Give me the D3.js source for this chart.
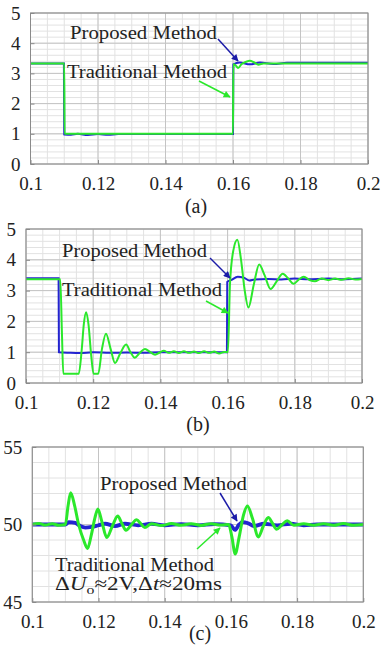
<!DOCTYPE html>
<html>
<head>
<meta charset="utf-8">
<script src="https://cdn.jsdelivr.net/npm/d3@7/dist/d3.min.js"></script>
<style>
  body { margin: 0; background: #fff; }
  svg { display: block; }
  text { font-family: "Times New Roman", "Liberation Serif", "DejaVu Serif", serif; fill: #222; }
</style>
</head>
<body>
<script>
// time axis shared by all three panels
var xTicks = [0.1, 0.12, 0.14, 0.16, 0.18, 0.2];
var yTicksAB = [0, 1, 2, 3, 4, 5];
var yTicksC = [45, 50, 55];

// (a) proposed / traditional
var propA = [[0.1,3.33],[0.1099,3.33],[0.11,0.98],[0.112,0.97],[0.114,1.0],[0.117,0.96],[0.12,0.99],[0.123,0.97],[0.126,0.99],[0.16,0.99],
  [0.1601,3.3],[0.162,3.36],[0.165,3.3],[0.168,3.36],[0.172,3.31],[0.176,3.35],[0.2,3.35]];
var tradA = [[0.1,3.33],[0.11,3.33],[0.1101,1.0],[0.16,1.0],[0.1601,3.3],[0.1608,3.26],[0.1615,3.18],[0.1625,3.3],[0.1638,3.38],[0.165,3.42],
  [0.1663,3.36],[0.1675,3.29],[0.169,3.33],[0.2,3.33]];

// (b)
var propB = [[0.1,3.4],[0.1097,3.4],[0.1098,1.0],[0.113,0.98],[0.116,0.97],[0.12,1.0],[0.125,0.98],[0.13,0.99],[0.135,0.98],[0.14,1.0],
  [0.15,1.0],[0.1598,1.0],[0.1599,3.28],[0.1612,3.35],[0.163,3.45],[0.1648,3.42],[0.1665,3.33],[0.168,3.36],[0.172,3.38],[0.176,3.36],
  [0.18,3.39],[0.184,3.37],[0.19,3.39],[0.195,3.37],[0.2,3.39]];
var tradB = [[0.1,3.37],[0.1102,3.37],[0.1107,1.6],[0.1111,0.3],[0.1157,0.3],[0.1166,1.1],[0.1172,1.9],[0.1179,2.3],[0.1186,1.9],
  [0.1194,0.9],[0.1201,0.3],[0.1215,0.3],[0.1226,1.1],[0.1238,1.6],[0.1252,1.1],[0.1265,0.65],[0.128,0.95],[0.1298,1.25],[0.1311,1.0],
  [0.1324,0.82],[0.1339,0.98],[0.1354,1.1],[0.137,1.0],[0.1384,0.92],[0.1398,0.99],[0.141,1.05],[0.1425,0.98],[0.144,1.03],
  [0.1455,0.97],[0.147,1.03],[0.1485,0.98],[0.15,1.02],[0.1515,0.97],[0.153,1.03],[0.1545,0.98],[0.156,1.02],[0.1575,0.96],
  [0.159,1.01],[0.1601,1.0],[0.1607,3.2],[0.1617,4.3],[0.1629,4.65],[0.164,4.0],[0.1651,3.0],[0.1662,2.45],[0.1678,3.2],
  [0.1694,3.85],[0.171,3.5],[0.1728,3.05],[0.1746,3.3],[0.1764,3.55],[0.178,3.4],[0.1796,3.22],[0.1811,3.35],[0.1827,3.45],
  [0.1844,3.34],[0.186,3.3],[0.188,3.39],[0.19,3.34],[0.192,3.39],[0.194,3.35],[0.196,3.4],[0.198,3.36],[0.2,3.38]];

// (c)
var propC = [[0.1,50],[0.11,50],[0.111,50.15],[0.113,50.1],[0.1145,49.9],[0.116,49.8],[0.118,49.85],[0.12,49.95],[0.122,50.05],
  [0.125,49.9],[0.128,50.05],[0.132,49.95],[0.136,50.05],[0.14,49.95],[0.145,50.03],[0.15,49.95],[0.155,50.02],[0.16,49.95],
  [0.1612,49.65],[0.1625,50.0],[0.1635,50.15],[0.165,50.1],[0.167,49.9],[0.17,50.05],[0.174,49.95],[0.178,50.05],[0.182,49.95],
  [0.186,50.0],[0.19,50],[0.2,50]];
var tradC = [[0.1,50],[0.102,50.06],[0.104,49.96],[0.106,50.05],[0.108,49.95],[0.11,50],[0.1108,51.2],[0.1116,52.05],[0.1128,51.2],[0.114,50],[0.1155,49.0],
  [0.1167,48.45],[0.1178,49.3],[0.119,50.5],[0.1198,51.0],[0.121,50.2],[0.1225,49.16],[0.1242,49.9],[0.1258,50.55],[0.127,50.1],
  [0.1283,49.63],[0.13,50.0],[0.1315,50.3],[0.1328,50.05],[0.134,49.8],[0.136,50.05],[0.139,49.93],[0.142,50.06],[0.145,49.95],
  [0.148,50.05],[0.151,49.94],[0.154,50.05],[0.157,49.96],[0.1593,50.0],[0.1603,49.2],[0.1613,48.1],[0.1625,49.2],[0.1638,50.6],
  [0.165,51.2],[0.1665,50.4],[0.1683,49.2],[0.1698,49.9],[0.1713,50.45],[0.1725,50.1],[0.1738,49.7],[0.1755,50.0],[0.177,50.25],
  [0.179,49.95],[0.182,50.05],[0.185,49.95],[0.188,50.05],[0.191,49.95],[0.194,50.06],[0.197,49.95],[0.2,50]];

var W = 381, H = 652;
var green = "#2be82b", blue = "#2424d0";

var svg = d3.select("body").append("svg")
  .attr("width", W).attr("height", H);

var defs = svg.append("defs");
[["ahBlue", "#1c1ca8"], ["ahGreen", green]].forEach(function(m) {
  defs.append("marker")
    .attr("id", m[0])
    .attr("viewBox", "0 0 10 10")
    .attr("refX", 9).attr("refY", 5)
    .attr("markerWidth", 9).attr("markerHeight", 7)
    .attr("markerUnits", "userSpaceOnUse")
    .attr("orient", "auto")
    .append("path").attr("d", "M0,0L10,5L0,10z").attr("fill", m[1]);
});

var panels = [
  { l: 30.5, r: 368, t: 13, b: 164, yDom: [0, 5], yTicks: yTicksAB, yMinor: 0.2,
    prop: propA, trad: tradA, wProp: 2, wTrad: 2, cap: "(a)", capX: 196, capY: 213,
    texts: [{ s: "Proposed Method", x: 70, y: 39, w: 147 }, { s: "Traditional Method", x: 67, y: 78, w: 160 }],
    arrows: [{ c: "ahBlue", col: "#1c1ca8", x1: 218, y1: 39, x2: 238, y2: 61 },
             { c: "ahGreen", col: green, x1: 199, y1: 81, x2: 230, y2: 97 }] },
  { l: 26, r: 362, t: 229, b: 383, yDom: [0, 5], yTicks: yTicksAB, yMinor: 0.2,
    prop: propB, trad: tradB, wProp: 2, wTrad: 2, cap: "(b)", capX: 198, capY: 431,
    texts: [{ s: "Proposed Method", x: 62, y: 257, w: 145 }, { s: "Traditional Method", x: 62, y: 296, w: 160 }],
    arrows: [{ c: "ahBlue", col: "#1c1ca8", x1: 210, y1: 258, x2: 230, y2: 278 },
             { c: "ahGreen", col: green, x1: 206, y1: 301, x2: 228, y2: 313 }] },
  { l: 32.3, r: 363.3, t: 447, b: 602, yDom: [45, 55], yTicks: yTicksC, yMinor: 1,
    prop: propC, trad: tradC, wProp: 3.8, wTrad: 3, cap: "(c)", capX: 200, capY: 640,
    texts: [{ s: "Proposed Method", x: 100, y: 490, w: 147 }, { s: "Traditional Method", x: 55, y: 571, w: 159 }],
    arrows: [{ c: "ahBlue", col: "#1c1ca8", x1: 220, y1: 493, x2: 237, y2: 521 },
             { c: "ahGreen", col: green, x1: 197, y1: 549, x2: 220, y2: 528 }] }
];

panels.forEach(function(p) {
  var x = d3.scaleLinear().domain([0.1, 0.2]).range([p.l, p.r]);
  var y = d3.scaleLinear().domain(p.yDom).range([p.b, p.t]);
  var g = svg.append("g");

  // grid: minor then major
  var xMinor = d3.range(0.1, 0.2001, 0.005);
  var yMinor = d3.range(p.yDom[0], p.yDom[1] + 1e-6, p.yMinor);
  g.selectAll(".gxm").data(xMinor).enter().append("line")
    .attr("x1", function(d) { return x(d); }).attr("x2", function(d) { return x(d); })
    .attr("y1", p.t).attr("y2", p.b)
    .attr("stroke", "#e2e2e2").attr("stroke-width", 1);
  g.selectAll(".gym").data(yMinor).enter().append("line")
    .attr("y1", function(d) { return y(d); }).attr("y2", function(d) { return y(d); })
    .attr("x1", p.l).attr("x2", p.r)
    .attr("stroke", "#e2e2e2").attr("stroke-width", 1);
  var yMajor = d3.range(p.yDom[0], p.yDom[1] + 1e-6, p.yDom[1] - p.yDom[0] > 5 ? 5 : 1);
  g.selectAll(".gxM").data(xTicks).enter().append("line")
    .attr("x1", function(d) { return x(d); }).attr("x2", function(d) { return x(d); })
    .attr("y1", p.t).attr("y2", p.b)
    .attr("stroke", "#c4c4c4").attr("stroke-width", 1);
  g.selectAll(".gyM").data(yMajor).enter().append("line")
    .attr("y1", function(d) { return y(d); }).attr("y2", function(d) { return y(d); })
    .attr("x1", p.l).attr("x2", p.r)
    .attr("stroke", "#c4c4c4").attr("stroke-width", 1);

  // traces: proposed under, traditional on top
  var line = d3.line()
    .x(function(d) { return x(d[0]); })
    .y(function(d) { return y(d[1]); })
    .curve(d3.curveMonotoneX);
  g.append("path").datum(p.prop).attr("d", line)
    .attr("fill", "none").attr("stroke", blue).attr("stroke-width", p.wProp);
  g.append("path").datum(p.trad).attr("d", line)
    .attr("fill", "none").attr("stroke", green).attr("stroke-width", p.wTrad);

  // box
  g.append("rect").attr("x", p.l).attr("y", p.t)
    .attr("width", p.r - p.l).attr("height", p.b - p.t)
    .attr("fill", "none").attr("stroke", "#8a8a8a").attr("stroke-width", 1);

  // axes (labels + small inward ticks)
  var xAxis = d3.axisBottom(x).tickValues(xTicks).tickSize(-4).tickPadding(13)
    .tickFormat(function(d) { return String(+d.toFixed(2)); });
  var gx = g.append("g").attr("transform", "translate(0," + p.b + ")").call(xAxis);
  var yAxis = d3.axisLeft(y).tickValues(p.yTicks).tickSize(-4).tickPadding(10)
    .tickFormat(d3.format("d"));
  var gy = g.append("g").attr("transform", "translate(" + p.l + ",0)").call(yAxis);
  [gx, gy].forEach(function(a) {
    a.select(".domain").remove();
    a.selectAll(".tick line").attr("stroke", "#8a8a8a");
    a.selectAll("text").attr("font-size", 19).attr("fill", "#222");
  });

  // annotations
  p.texts.forEach(function(t) {
    g.append("text").attr("x", t.x).attr("y", t.y)
      .attr("font-size", 19).attr("textLength", t.w).attr("lengthAdjust", "spacingAndGlyphs")
      .text(t.s);
  });
  p.arrows.forEach(function(a) {
    g.append("line").attr("x1", a.x1).attr("y1", a.y1).attr("x2", a.x2).attr("y2", a.y2)
      .attr("stroke", a.col).attr("stroke-width", 1.5)
      .attr("marker-end", "url(#" + a.c + ")");
  });

  g.append("text").attr("x", p.capX).attr("y", p.capY)
    .attr("text-anchor", "middle").attr("font-size", 20).text(p.cap);
});

// second line of the (c) note: ΔUo≈2V,Δt≈20ms
var note = svg.append("text").attr("x", 55).attr("y", 590).attr("font-size", 19)
  .attr("textLength", 167).attr("lengthAdjust", "spacingAndGlyphs");
note.append("tspan").text("\u0394");
note.append("tspan").attr("font-style", "italic").text("U");
note.append("tspan").attr("font-size", 13).attr("dy", 4).text("o");
note.append("tspan").attr("dy", -4).text("\u22482V,\u0394");
note.append("tspan").attr("font-style", "italic").text("t");
note.append("tspan").text("\u224820ms");
</script>
</body>
</html>
